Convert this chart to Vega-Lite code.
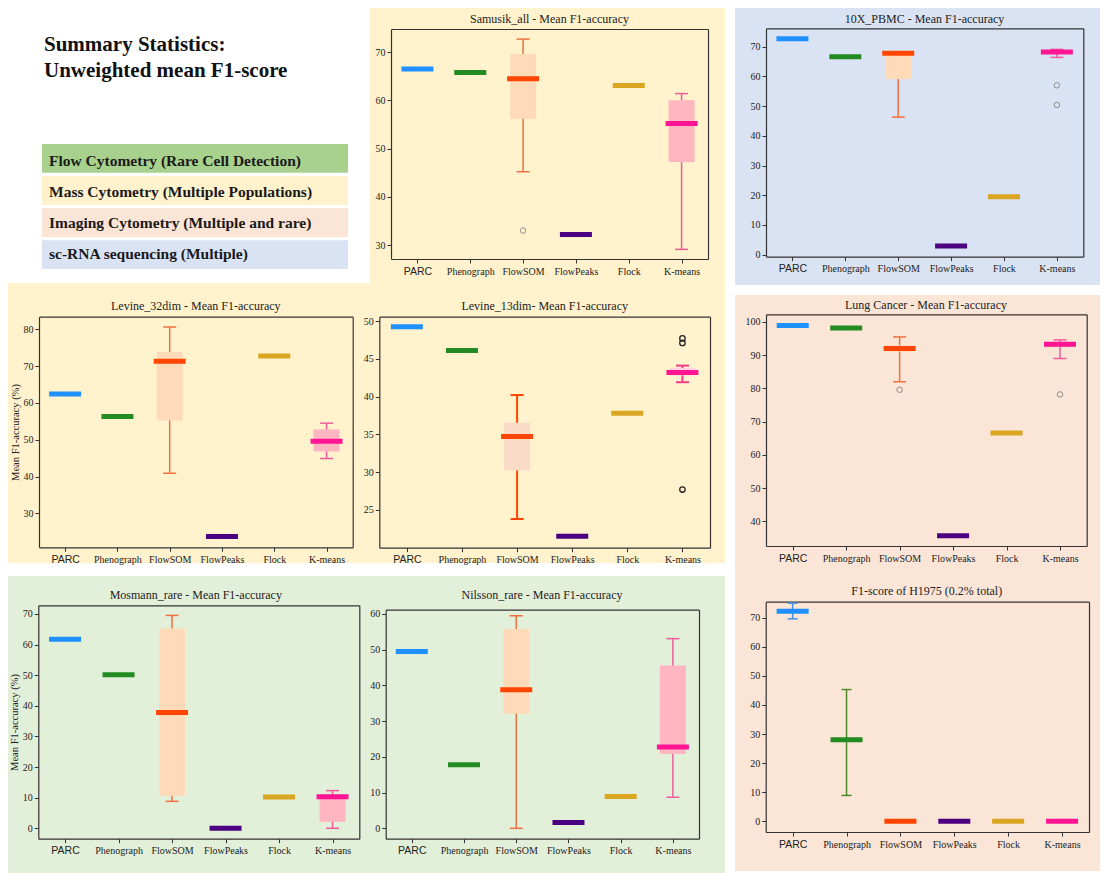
{
"$schema": "https://vega.github.io/schema/vega-lite/v6.json",
"padding": {"left": 8, "top": 8, "right": 0, "bottom": 0},
"background": "white",
"config": {
  "view": {"stroke": null},
  "tick": {"opacity": 1},
  "point": {"opacity": 1},
  "axis": {"grid": false, "labelFont": "Liberation Serif", "labelFontSize": 10, "labelColor": "#222222", "domainColor": "#333333", "domainWidth": 1.2, "tickColor": "#333333", "tickSize": 4, "tickWidth": 1, "labelPadding": 2, "titleFont": "Liberation Serif", "titleFontWeight": "normal", "titleFontSize": 10.5, "titleColor": "#222222"},
  "title": {"font": "Liberation Serif", "fontSize": 12, "fontWeight": "normal", "color": "#222222", "frame": "group", "baseline": "middle"}
},
"datasets": {
  "heading": [
    {"line": "Summary Statistics:"},
    {"line": "Unweighted mean F1-score"}
  ],
  "groups": [
    {"group": "Flow Cytometry (Rare Cell Detection)"},
    {"group": "Mass Cytometry (Multiple Populations)"},
    {"group": "Imaging Cytometry (Multiple and rare)"},
    {"group": "sc-RNA sequencing (Multiple)"}
  ],
  "stats": [
    {"panel": "Samusik_all", "method": "PARC", "med": 66.5, "q1": 66.5, "q3": 66.5, "lo": 66.5, "hi": 66.5},
    {"panel": "Samusik_all", "method": "Phenograph", "med": 65.8, "q1": 65.8, "q3": 65.8, "lo": 65.8, "hi": 65.8},
    {"panel": "Samusik_all", "method": "FlowSOM", "med": 64.5, "q1": 56.2, "q3": 69.6, "lo": 45.2, "hi": 72.7},
    {"panel": "Samusik_all", "method": "FlowPeaks", "med": 32.2, "q1": 32.2, "q3": 32.2, "lo": 32.2, "hi": 32.2},
    {"panel": "Samusik_all", "method": "Flock", "med": 63.1, "q1": 63.1, "q3": 63.1, "lo": 63.1, "hi": 63.1},
    {"panel": "Samusik_all", "method": "K-means", "med": 55.2, "q1": 47.2, "q3": 60.0, "lo": 29.1, "hi": 61.4},
    {"panel": "10X_PBMC", "method": "PARC", "med": 72.7, "q1": 72.7, "q3": 72.7, "lo": 72.7, "hi": 72.7},
    {"panel": "10X_PBMC", "method": "Phenograph", "med": 66.6, "q1": 66.6, "q3": 66.6, "lo": 66.6, "hi": 66.6},
    {"panel": "10X_PBMC", "method": "FlowSOM", "med": 67.8, "q1": 59.1, "q3": 68.2, "lo": 46.3, "hi": 68.2},
    {"panel": "10X_PBMC", "method": "FlowPeaks", "med": 2.9, "q1": 2.9, "q3": 2.9, "lo": 2.9, "hi": 2.9},
    {"panel": "10X_PBMC", "method": "Flock", "med": 19.5, "q1": 19.5, "q3": 19.5, "lo": 19.5, "hi": 19.5},
    {"panel": "10X_PBMC", "method": "K-means", "med": 68.2, "q1": 67.6, "q3": 68.8, "lo": 66.4, "hi": 69.1},
    {"panel": "Levine_32dim", "method": "PARC", "med": 62.4, "q1": 62.4, "q3": 62.4, "lo": 62.4, "hi": 62.4},
    {"panel": "Levine_32dim", "method": "Phenograph", "med": 56.3, "q1": 56.3, "q3": 56.3, "lo": 56.3, "hi": 56.3},
    {"panel": "Levine_32dim", "method": "FlowSOM", "med": 71.3, "q1": 55.2, "q3": 73.8, "lo": 40.9, "hi": 80.6},
    {"panel": "Levine_32dim", "method": "FlowPeaks", "med": 23.7, "q1": 23.7, "q3": 23.7, "lo": 23.7, "hi": 23.7},
    {"panel": "Levine_32dim", "method": "Flock", "med": 72.7, "q1": 72.7, "q3": 72.7, "lo": 72.7, "hi": 72.7},
    {"panel": "Levine_32dim", "method": "K-means", "med": 49.6, "q1": 46.8, "q3": 52.8, "lo": 44.9, "hi": 54.5},
    {"panel": "Levine_13dim", "method": "PARC", "med": 49.25, "q1": 49.25, "q3": 49.25, "lo": 49.25, "hi": 49.25},
    {"panel": "Levine_13dim", "method": "Phenograph", "med": 46.1, "q1": 46.1, "q3": 46.1, "lo": 46.1, "hi": 46.1},
    {"panel": "Levine_13dim", "method": "FlowSOM", "med": 34.7, "q1": 30.2, "q3": 36.55, "lo": 23.8, "hi": 40.2},
    {"panel": "Levine_13dim", "method": "FlowPeaks", "med": 21.5, "q1": 21.5, "q3": 21.5, "lo": 21.5, "hi": 21.5},
    {"panel": "Levine_13dim", "method": "Flock", "med": 37.8, "q1": 37.8, "q3": 37.8, "lo": 37.8, "hi": 37.8},
    {"panel": "Levine_13dim", "method": "K-means", "med": 43.2, "q1": 42.8, "q3": 43.8, "lo": 41.9, "hi": 44.1},
    {"panel": "Lung Cancer", "method": "PARC", "med": 98.9, "q1": 98.9, "q3": 98.9, "lo": 98.9, "hi": 98.9},
    {"panel": "Lung Cancer", "method": "Phenograph", "med": 98.2, "q1": 98.2, "q3": 98.2, "lo": 98.2, "hi": 98.2},
    {"panel": "Lung Cancer", "method": "FlowSOM", "med": 92.0, "q1": 91.1, "q3": 92.9, "lo": 82.0, "hi": 95.5},
    {"panel": "Lung Cancer", "method": "FlowPeaks", "med": 35.7, "q1": 35.7, "q3": 35.7, "lo": 35.7, "hi": 35.7},
    {"panel": "Lung Cancer", "method": "Flock", "med": 66.6, "q1": 66.6, "q3": 66.6, "lo": 66.6, "hi": 66.6},
    {"panel": "Lung Cancer", "method": "K-means", "med": 93.3, "q1": 92.4, "q3": 93.9, "lo": 89.0, "hi": 94.6},
    {"panel": "Mosmann_rare", "method": "PARC", "med": 61.7, "q1": 61.7, "q3": 61.7, "lo": 61.7, "hi": 61.7},
    {"panel": "Mosmann_rare", "method": "Phenograph", "med": 50.1, "q1": 50.1, "q3": 50.1, "lo": 50.1, "hi": 50.1},
    {"panel": "Mosmann_rare", "method": "FlowSOM", "med": 37.8, "q1": 10.6, "q3": 65.2, "lo": 8.8, "hi": 69.5},
    {"panel": "Mosmann_rare", "method": "FlowPeaks", "med": 0.0, "q1": 0.0, "q3": 0.0, "lo": 0.0, "hi": 0.0},
    {"panel": "Mosmann_rare", "method": "Flock", "med": 10.2, "q1": 10.2, "q3": 10.2, "lo": 10.2, "hi": 10.2},
    {"panel": "Mosmann_rare", "method": "K-means", "med": 10.3, "q1": 2.1, "q3": 11.0, "lo": 0.0, "hi": 12.3},
    {"panel": "Nilsson_rare", "method": "PARC", "med": 49.5, "q1": 49.5, "q3": 49.5, "lo": 49.5, "hi": 49.5},
    {"panel": "Nilsson_rare", "method": "Phenograph", "med": 17.8, "q1": 17.8, "q3": 17.8, "lo": 17.8, "hi": 17.8},
    {"panel": "Nilsson_rare", "method": "FlowSOM", "med": 38.8, "q1": 32.1, "q3": 55.8, "lo": 0.0, "hi": 59.5},
    {"panel": "Nilsson_rare", "method": "FlowPeaks", "med": 1.6, "q1": 1.6, "q3": 1.6, "lo": 1.6, "hi": 1.6},
    {"panel": "Nilsson_rare", "method": "Flock", "med": 8.9, "q1": 8.9, "q3": 8.9, "lo": 8.9, "hi": 8.9},
    {"panel": "Nilsson_rare", "method": "K-means", "med": 22.8, "q1": 20.8, "q3": 45.6, "lo": 8.7, "hi": 53.1},
    {"panel": "H1975", "method": "PARC", "med": 72.2, "q1": 72.2, "q3": 72.2, "lo": 69.6, "hi": 75.0},
    {"panel": "H1975", "method": "Phenograph", "med": 28.0, "q1": 28.0, "q3": 28.0, "lo": 8.9, "hi": 45.3},
    {"panel": "H1975", "method": "FlowSOM", "med": 0.0, "q1": 0.0, "q3": 0.0, "lo": 0.0, "hi": 0.0},
    {"panel": "H1975", "method": "FlowPeaks", "med": 0.0, "q1": 0.0, "q3": 0.0, "lo": 0.0, "hi": 0.0},
    {"panel": "H1975", "method": "Flock", "med": 0.0, "q1": 0.0, "q3": 0.0, "lo": 0.0, "hi": 0.0},
    {"panel": "H1975", "method": "K-means", "med": 0.0, "q1": 0.0, "q3": 0.0, "lo": 0.0, "hi": 0.0}
  ],
  "outliers": [
    {"panel": "Samusik_all", "method": "FlowSOM", "value": 33.0},
    {"panel": "10X_PBMC", "method": "K-means", "value": 57.0},
    {"panel": "10X_PBMC", "method": "K-means", "value": 50.4},
    {"panel": "Levine_13dim", "method": "K-means", "value": 47.7},
    {"panel": "Levine_13dim", "method": "K-means", "value": 47.1},
    {"panel": "Levine_13dim", "method": "K-means", "value": 27.7},
    {"panel": "Lung Cancer", "method": "FlowSOM", "value": 79.6},
    {"panel": "Lung Cancer", "method": "K-means", "value": 78.2}
  ]
},
"spacing": 10,
"hconcat": [
 {"spacing": 10, "vconcat": [
  {"spacing": 0, "vconcat": [
   {"spacing": 0, "hconcat": [
    {
     "width": 362, "height": 275,
     "view": {"fill": "white", "stroke": null},
     "resolve": {"scale": {"y": "independent"}},
     "layer": [
      {"data": {"name": "heading"},
       "mark": {"type": "text", "align": "left", "baseline": "alphabetic", "dx": 2, "font": "Liberation Serif", "fontWeight": "bold", "fontSize": 21, "color": "#111111"},
       "encoding": {
        "y": {"field": "line", "type": "nominal", "scale": {"type": "point", "domain": ["Summary Statistics:", "Unweighted mean F1-score"], "range": [43, 69], "padding": 0}, "axis": null},
        "x": {"datum": 0, "type": "quantitative", "scale": {"domain": [0, 1], "range": [34, 340], "nice": false}, "axis": null},
        "text": {"field": "line"}
       }},
      {"data": {"name": "groups"},
       "mark": {"type": "bar"},
       "encoding": {
        "y": {"field": "group", "type": "nominal", "scale": {"domain": ["Flow Cytometry (Rare Cell Detection)", "Mass Cytometry (Multiple Populations)", "Imaging Cytometry (Multiple and rare)", "sc-RNA sequencing (Multiple)"], "range": [136, 261], "paddingInner": 0.1, "paddingOuter": 0}, "axis": null},
        "x": {"datum": 0, "type": "quantitative", "scale": {"domain": [0, 1], "range": [34, 340], "nice": false}, "axis": null},
        "x2": {"datum": 1},
        "fill": {"field": "group", "type": "nominal", "scale": {"domain": ["Flow Cytometry (Rare Cell Detection)", "Mass Cytometry (Multiple Populations)", "Imaging Cytometry (Multiple and rare)", "sc-RNA sequencing (Multiple)"], "range": ["#A9D18E", "#FFF2CC", "#FBE5D6", "#DAE3F3"]}, "legend": null}
       }},
      {"data": {"name": "groups"},
       "mark": {"type": "text", "align": "left", "dx": 7, "dy": 1, "font": "Liberation Serif", "fontWeight": "bold", "fontSize": 15.5, "color": "#1a1a1a"},
       "encoding": {
        "y": {"field": "group", "type": "nominal", "scale": {"domain": ["Flow Cytometry (Rare Cell Detection)", "Mass Cytometry (Multiple Populations)", "Imaging Cytometry (Multiple and rare)", "sc-RNA sequencing (Multiple)"], "range": [136, 261], "paddingInner": 0.1, "paddingOuter": 0}, "axis": null},
        "x": {"datum": 0, "type": "quantitative", "scale": {"domain": [0, 1], "range": [34, 340], "nice": false}, "axis": null},
        "text": {"field": "group"}
       }}
     ]
    },
    {
     "width": 355, "height": 275,
     "view": {"fill": "#FFF2CC", "stroke": null},
     "title": {"text": "Samusik_all - Mean F1-accuracy", "offset": -17.5, "dx": 2},
     "resolve": {"axis": {"x": "independent", "y": "independent"}},
     "layer": [
      {"data": {"name": "stats"}, "transform": [{"filter": "datum.panel === 'Samusik_all' && datum.hi > datum.lo"}],
       "mark": {"type": "rule", "strokeWidth": 1.5},
       "encoding": {
        "x": {"field": "method", "type": "nominal", "scale": {"type": "point", "padding": 0.5, "domain": ["PARC","Phenograph","FlowSOM","FlowPeaks","Flock","K-means"], "range": [21, 338]}, "axis": null},
        "y": {"field": "lo", "type": "quantitative", "scale": {"domain": [27.1, 74.8], "range": [251, 21], "nice": false, "zero": false}, "axis": null},
        "y2": {"field": "hi"},
        "color": {"condition": [{"test": "datum.method === 'FlowSOM'", "value": "#F0703F"}, {"test": "datum.method === 'K-means'", "value": "#EE5C9B"}, {"test": "datum.method === 'PARC'", "value": "#4A8FE0"}], "value": "#4F8A2A"}
       }},
      {"data": {"name": "stats"}, "transform": [{"filter": "datum.panel === 'Samusik_all' && datum.hi > datum.lo"}],
       "mark": {"type": "tick", "size": 13, "thickness": 1.5},
       "encoding": {
        "x": {"field": "method", "type": "nominal", "scale": {"type": "point", "padding": 0.5, "domain": ["PARC","Phenograph","FlowSOM","FlowPeaks","Flock","K-means"], "range": [21, 338]}, "axis": null},
        "y": {"field": "lo", "type": "quantitative", "scale": {"domain": [27.1, 74.8], "range": [251, 21], "nice": false, "zero": false}, "axis": null},
        "color": {"condition": [{"test": "datum.method === 'FlowSOM'", "value": "#F0703F"}, {"test": "datum.method === 'K-means'", "value": "#EE5C9B"}, {"test": "datum.method === 'PARC'", "value": "#4A8FE0"}], "value": "#4F8A2A"}
       }},
      {"data": {"name": "stats"}, "transform": [{"filter": "datum.panel === 'Samusik_all' && datum.hi > datum.lo"}],
       "mark": {"type": "tick", "size": 13, "thickness": 1.5},
       "encoding": {
        "x": {"field": "method", "type": "nominal", "scale": {"type": "point", "padding": 0.5, "domain": ["PARC","Phenograph","FlowSOM","FlowPeaks","Flock","K-means"], "range": [21, 338]}, "axis": null},
        "y": {"field": "hi", "type": "quantitative", "scale": {"domain": [27.1, 74.8], "range": [251, 21], "nice": false, "zero": false}, "axis": null},
        "color": {"condition": [{"test": "datum.method === 'FlowSOM'", "value": "#F0703F"}, {"test": "datum.method === 'K-means'", "value": "#EE5C9B"}, {"test": "datum.method === 'PARC'", "value": "#4A8FE0"}], "value": "#4F8A2A"}
       }},
      {"data": {"name": "stats"}, "transform": [{"filter": "datum.panel === 'Samusik_all' && datum.q3 > datum.q1"}],
       "mark": {"type": "bar", "width": 26},
       "encoding": {
        "x": {"field": "method", "type": "nominal", "scale": {"type": "point", "padding": 0.5, "domain": ["PARC","Phenograph","FlowSOM","FlowPeaks","Flock","K-means"], "range": [21, 338]}, "axis": null},
        "y": {"field": "q1", "type": "quantitative", "scale": {"domain": [27.1, 74.8], "range": [251, 21], "nice": false, "zero": false}, "axis": null},
        "y2": {"field": "q3"},
        "color": {"condition": {"test": "datum.method === 'FlowSOM'", "value": "#FFDAB9"}, "value": "#FFB6C1"}
       }},
      {"data": {"name": "stats"}, "transform": [{"filter": "datum.panel === 'Samusik_all'"}],
       "mark": {"type": "tick", "size": 32, "thickness": 5},
       "encoding": {
        "x": {"field": "method", "type": "nominal", "scale": {"type": "point", "padding": 0.5, "domain": ["PARC","Phenograph","FlowSOM","FlowPeaks","Flock","K-means"], "range": [21, 338]},
              "axis": {"orient": "bottom", "offset": -24, "title": null, "labelAngle": 0, "labelPadding": 3, "labelFont": {"condition": {"test": "datum.value === 'PARC'", "value": "Liberation Sans"}, "value": "Liberation Serif"}, "labelFontSize": {"condition": {"test": "datum.value === 'PARC'", "value": 10.5}, "value": 10}}},
        "y": {"field": "med", "type": "quantitative", "scale": {"domain": [27.1, 74.8], "range": [251, 21], "nice": false, "zero": false},
              "axis": {"orient": "left", "offset": -21, "title": null, "values": [30, 40, 50, 60, 70]}},
        "color": {"field": "method", "type": "nominal", "scale": {"domain": ["PARC","Phenograph","FlowSOM","FlowPeaks","Flock","K-means"], "range": ["#1E90FF","#228B22","#FF4500","#4B0082","#DAA520","#FF1493"]}, "legend": null}
       }},
      {"data": {"name": "outliers"}, "transform": [{"filter": "datum.panel === 'Samusik_all'"}],
       "mark": {"type": "point", "filled": false, "size": 30, "strokeWidth": 1},
       "encoding": {
        "x": {"field": "method", "type": "nominal", "scale": {"type": "point", "padding": 0.5, "domain": ["PARC","Phenograph","FlowSOM","FlowPeaks","Flock","K-means"], "range": [21, 338]}, "axis": null},
        "y": {"field": "value", "type": "quantitative", "scale": {"domain": [27.1, 74.8], "range": [251, 21], "nice": false, "zero": false}, "axis": null},
        "color": {"condition": {"test": "datum.panel === 'Levine_13dim'", "value": "#222222"}, "value": "#8C8C8C"}
       }},
      {"data": {"name": "stats"}, "transform": [{"filter": "datum.panel === 'Samusik_all'"}],
       "mark": {"type": "point", "opacity": 0},
       "encoding": {
        "x": {"field": "method", "type": "nominal", "scale": {"type": "point", "padding": 0.5, "domain": ["PARC","Phenograph","FlowSOM","FlowPeaks","Flock","K-means"], "range": [21, 338]},
              "axis": {"orient": "top", "offset": -21, "title": null, "labels": false, "ticks": false}},
        "y": {"field": "med", "type": "quantitative", "scale": {"domain": [27.1, 74.8], "range": [251, 21], "nice": false, "zero": false},
              "axis": {"orient": "right", "offset": -17, "title": null, "labels": false, "ticks": false}}
       }}
     ]
    }
   ]},
   {"spacing": 0, "hconcat": [
    {
     "width": 347, "height": 280,
     "view": {"fill": "#FFF2CC", "stroke": null},
     "title": {"text": "Levine_32dim - Mean F1-accuracy", "offset": -30.2, "dx": 14.3},
     "resolve": {"axis": {"x": "independent", "y": "independent"}},
     "layer": [
      {"data": {"name": "stats"}, "transform": [{"filter": "datum.panel === 'Levine_32dim' && datum.hi > datum.lo"}],
       "mark": {"type": "rule", "strokeWidth": 1.5},
       "encoding": {
        "x": {"field": "method", "type": "nominal", "scale": {"type": "point", "padding": 0.5, "domain": ["PARC","Phenograph","FlowSOM","FlowPeaks","Flock","K-means"], "range": [31, 344.7]}, "axis": null},
        "y": {"field": "lo", "type": "quantitative", "scale": {"domain": [20.8, 83.4], "range": [264.3, 33.7], "nice": false, "zero": false}, "axis": null},
        "y2": {"field": "hi"},
        "color": {"condition": [{"test": "datum.method === 'FlowSOM'", "value": "#F0703F"}, {"test": "datum.method === 'K-means'", "value": "#EE5C9B"}, {"test": "datum.method === 'PARC'", "value": "#4A8FE0"}], "value": "#4F8A2A"}
       }},
      {"data": {"name": "stats"}, "transform": [{"filter": "datum.panel === 'Levine_32dim' && datum.hi > datum.lo"}],
       "mark": {"type": "tick", "size": 13, "thickness": 1.5},
       "encoding": {
        "x": {"field": "method", "type": "nominal", "scale": {"type": "point", "padding": 0.5, "domain": ["PARC","Phenograph","FlowSOM","FlowPeaks","Flock","K-means"], "range": [31, 344.7]}, "axis": null},
        "y": {"field": "lo", "type": "quantitative", "scale": {"domain": [20.8, 83.4], "range": [264.3, 33.7], "nice": false, "zero": false}, "axis": null},
        "color": {"condition": [{"test": "datum.method === 'FlowSOM'", "value": "#F0703F"}, {"test": "datum.method === 'K-means'", "value": "#EE5C9B"}, {"test": "datum.method === 'PARC'", "value": "#4A8FE0"}], "value": "#4F8A2A"}
       }},
      {"data": {"name": "stats"}, "transform": [{"filter": "datum.panel === 'Levine_32dim' && datum.hi > datum.lo"}],
       "mark": {"type": "tick", "size": 13, "thickness": 1.5},
       "encoding": {
        "x": {"field": "method", "type": "nominal", "scale": {"type": "point", "padding": 0.5, "domain": ["PARC","Phenograph","FlowSOM","FlowPeaks","Flock","K-means"], "range": [31, 344.7]}, "axis": null},
        "y": {"field": "hi", "type": "quantitative", "scale": {"domain": [20.8, 83.4], "range": [264.3, 33.7], "nice": false, "zero": false}, "axis": null},
        "color": {"condition": [{"test": "datum.method === 'FlowSOM'", "value": "#F0703F"}, {"test": "datum.method === 'K-means'", "value": "#EE5C9B"}, {"test": "datum.method === 'PARC'", "value": "#4A8FE0"}], "value": "#4F8A2A"}
       }},
      {"data": {"name": "stats"}, "transform": [{"filter": "datum.panel === 'Levine_32dim' && datum.q3 > datum.q1"}],
       "mark": {"type": "bar", "width": 26},
       "encoding": {
        "x": {"field": "method", "type": "nominal", "scale": {"type": "point", "padding": 0.5, "domain": ["PARC","Phenograph","FlowSOM","FlowPeaks","Flock","K-means"], "range": [31, 344.7]}, "axis": null},
        "y": {"field": "q1", "type": "quantitative", "scale": {"domain": [20.8, 83.4], "range": [264.3, 33.7], "nice": false, "zero": false}, "axis": null},
        "y2": {"field": "q3"},
        "color": {"condition": {"test": "datum.method === 'FlowSOM'", "value": "#FFDAB9"}, "value": "#FFB6C1"}
       }},
      {"data": {"name": "stats"}, "transform": [{"filter": "datum.panel === 'Levine_32dim'"}],
       "mark": {"type": "tick", "size": 32, "thickness": 5},
       "encoding": {
        "x": {"field": "method", "type": "nominal", "scale": {"type": "point", "padding": 0.5, "domain": ["PARC","Phenograph","FlowSOM","FlowPeaks","Flock","K-means"], "range": [31, 344.7]},
              "axis": {"orient": "bottom", "offset": -15.7, "title": null, "labelAngle": 0, "labelPadding": 3, "labelFont": {"condition": {"test": "datum.value === 'PARC'", "value": "Liberation Sans"}, "value": "Liberation Serif"}, "labelFontSize": {"condition": {"test": "datum.value === 'PARC'", "value": 10.5}, "value": 10}}},
        "y": {"field": "med", "type": "quantitative", "scale": {"domain": [20.8, 83.4], "range": [264.3, 33.7], "nice": false, "zero": false},
              "axis": {"orient": "left", "offset": -31, "title": "Mean F1-accuracy (%)", "titlePadding": 3, "values": [30, 40, 50, 60, 70, 80]}},
        "color": {"field": "method", "type": "nominal", "scale": {"domain": ["PARC","Phenograph","FlowSOM","FlowPeaks","Flock","K-means"], "range": ["#1E90FF","#228B22","#FF4500","#4B0082","#DAA520","#FF1493"]}, "legend": null}
       }},
      {"data": {"name": "stats"}, "transform": [{"filter": "datum.panel === 'Levine_32dim'"}],
       "mark": {"type": "point", "opacity": 0},
       "encoding": {
        "x": {"field": "method", "type": "nominal", "scale": {"type": "point", "padding": 0.5, "domain": ["PARC","Phenograph","FlowSOM","FlowPeaks","Flock","K-means"], "range": [31, 344.7]},
              "axis": {"orient": "top", "offset": -33.7, "title": null, "labels": false, "ticks": false}},
        "y": {"field": "med", "type": "quantitative", "scale": {"domain": [20.8, 83.4], "range": [264.3, 33.7], "nice": false, "zero": false},
              "axis": {"orient": "right", "offset": -2.3, "title": null, "labels": false, "ticks": false}}
       }}
     ]
    },
    {
     "width": 370, "height": 280,
     "view": {"fill": "#FFF2CC", "stroke": null},
     "title": {"text": "Levine_13dim- Mean F1-accuracy", "offset": -30.2, "dx": 4.7},
     "resolve": {"axis": {"x": "independent", "y": "independent"}},
     "layer": [
      {"data": {"name": "stats"}, "transform": [{"filter": "datum.panel === 'Levine_13dim' && datum.hi > datum.lo"}],
       "mark": {"type": "rule", "strokeWidth": 2},
       "encoding": {
        "x": {"field": "method", "type": "nominal", "scale": {"type": "point", "padding": 0.5, "domain": ["PARC","Phenograph","FlowSOM","FlowPeaks","Flock","K-means"], "range": [24.3, 355]}, "axis": null},
        "y": {"field": "lo", "type": "quantitative", "scale": {"domain": [20.0, 50.57], "range": [264.7, 33.7], "nice": false, "zero": false}, "axis": null},
        "y2": {"field": "hi"},
        "color": {"condition": [{"test": "datum.method === 'FlowSOM'", "value": "#FF4500"}, {"test": "datum.method === 'K-means'", "value": "#EE3C8B"}, {"test": "datum.method === 'PARC'", "value": "#4A8FE0"}], "value": "#4F8A2A"}
       }},
      {"data": {"name": "stats"}, "transform": [{"filter": "datum.panel === 'Levine_13dim' && datum.hi > datum.lo"}],
       "mark": {"type": "tick", "size": 13, "thickness": 2},
       "encoding": {
        "x": {"field": "method", "type": "nominal", "scale": {"type": "point", "padding": 0.5, "domain": ["PARC","Phenograph","FlowSOM","FlowPeaks","Flock","K-means"], "range": [24.3, 355]}, "axis": null},
        "y": {"field": "lo", "type": "quantitative", "scale": {"domain": [20.0, 50.57], "range": [264.7, 33.7], "nice": false, "zero": false}, "axis": null},
        "color": {"condition": [{"test": "datum.method === 'FlowSOM'", "value": "#FF4500"}, {"test": "datum.method === 'K-means'", "value": "#EE3C8B"}, {"test": "datum.method === 'PARC'", "value": "#4A8FE0"}], "value": "#4F8A2A"}
       }},
      {"data": {"name": "stats"}, "transform": [{"filter": "datum.panel === 'Levine_13dim' && datum.hi > datum.lo"}],
       "mark": {"type": "tick", "size": 13, "thickness": 2},
       "encoding": {
        "x": {"field": "method", "type": "nominal", "scale": {"type": "point", "padding": 0.5, "domain": ["PARC","Phenograph","FlowSOM","FlowPeaks","Flock","K-means"], "range": [24.3, 355]}, "axis": null},
        "y": {"field": "hi", "type": "quantitative", "scale": {"domain": [20.0, 50.57], "range": [264.7, 33.7], "nice": false, "zero": false}, "axis": null},
        "color": {"condition": [{"test": "datum.method === 'FlowSOM'", "value": "#FF4500"}, {"test": "datum.method === 'K-means'", "value": "#EE3C8B"}, {"test": "datum.method === 'PARC'", "value": "#4A8FE0"}], "value": "#4F8A2A"}
       }},
      {"data": {"name": "stats"}, "transform": [{"filter": "datum.panel === 'Levine_13dim' && datum.q3 > datum.q1"}],
       "mark": {"type": "bar", "width": 26},
       "encoding": {
        "x": {"field": "method", "type": "nominal", "scale": {"type": "point", "padding": 0.5, "domain": ["PARC","Phenograph","FlowSOM","FlowPeaks","Flock","K-means"], "range": [24.3, 355]}, "axis": null},
        "y": {"field": "q1", "type": "quantitative", "scale": {"domain": [20.0, 50.57], "range": [264.7, 33.7], "nice": false, "zero": false}, "axis": null},
        "y2": {"field": "q3"},
        "color": {"condition": {"test": "datum.method === 'FlowSOM'", "value": "#FADBC8"}, "value": "#FFD0DD"}
       }},
      {"data": {"name": "stats"}, "transform": [{"filter": "datum.panel === 'Levine_13dim'"}],
       "mark": {"type": "tick", "size": 32, "thickness": 5},
       "encoding": {
        "x": {"field": "method", "type": "nominal", "scale": {"type": "point", "padding": 0.5, "domain": ["PARC","Phenograph","FlowSOM","FlowPeaks","Flock","K-means"], "range": [24.3, 355]},
              "axis": {"orient": "bottom", "offset": -15.3, "title": null, "labelAngle": 0, "labelPadding": 3, "labelFont": {"condition": {"test": "datum.value === 'PARC'", "value": "Liberation Sans"}, "value": "Liberation Serif"}, "labelFontSize": {"condition": {"test": "datum.value === 'PARC'", "value": 10.5}, "value": 10}}},
        "y": {"field": "med", "type": "quantitative", "scale": {"domain": [20.0, 50.57], "range": [264.7, 33.7], "nice": false, "zero": false},
              "axis": {"orient": "left", "offset": -24.3, "title": null, "values": [25, 30, 35, 40, 45, 50]}},
        "color": {"field": "method", "type": "nominal", "scale": {"domain": ["PARC","Phenograph","FlowSOM","FlowPeaks","Flock","K-means"], "range": ["#1E90FF","#228B22","#FF4500","#4B0082","#DAA520","#FF1493"]}, "legend": null}
       }},
      {"data": {"name": "outliers"}, "transform": [{"filter": "datum.panel === 'Levine_13dim'"}],
       "mark": {"type": "point", "filled": false, "size": 30, "strokeWidth": 1.3},
       "encoding": {
        "x": {"field": "method", "type": "nominal", "scale": {"type": "point", "padding": 0.5, "domain": ["PARC","Phenograph","FlowSOM","FlowPeaks","Flock","K-means"], "range": [24.3, 355]}, "axis": null},
        "y": {"field": "value", "type": "quantitative", "scale": {"domain": [20.0, 50.57], "range": [264.7, 33.7], "nice": false, "zero": false}, "axis": null},
        "color": {"condition": {"test": "datum.panel === 'Levine_13dim'", "value": "#222222"}, "value": "#8C8C8C"}
       }},
      {"data": {"name": "stats"}, "transform": [{"filter": "datum.panel === 'Levine_13dim'"}],
       "mark": {"type": "point", "opacity": 0},
       "encoding": {
        "x": {"field": "method", "type": "nominal", "scale": {"type": "point", "padding": 0.5, "domain": ["PARC","Phenograph","FlowSOM","FlowPeaks","Flock","K-means"], "range": [24.3, 355]},
              "axis": {"orient": "top", "offset": -33.7, "title": null, "labels": false, "ticks": false}},
        "y": {"field": "med", "type": "quantitative", "scale": {"domain": [20.0, 50.57], "range": [264.7, 33.7], "nice": false, "zero": false},
              "axis": {"orient": "right", "offset": -15, "title": null, "labels": false, "ticks": false}}
       }}
     ]
    }
   ]}
  ]},
  {"spacing": 0, "hconcat": [
    {
     "width": 357, "height": 298,
     "view": {"fill": "#E2EFD9", "stroke": null},
     "title": {"text": "Mosmann_rare - Mean F1-accuracy", "offset": -25.5, "dx": 9.3},
     "resolve": {"axis": {"x": "independent", "y": "independent"}},
     "layer": [
      {"data": {"name": "stats"}, "transform": [{"filter": "datum.panel === 'Mosmann_rare' && datum.hi > datum.lo"}],
       "mark": {"type": "rule", "strokeWidth": 1.5},
       "encoding": {
        "x": {"field": "method", "type": "nominal", "scale": {"type": "point", "padding": 0.5, "domain": ["PARC","Phenograph","FlowSOM","FlowPeaks","Flock","K-means"], "range": [30.3, 351.3]}, "axis": null},
        "y": {"field": "lo", "type": "quantitative", "scale": {"domain": [-3.4, 72.8], "range": [262.7, 29.3], "nice": false, "zero": false}, "axis": null},
        "y2": {"field": "hi"},
        "color": {"condition": [{"test": "datum.method === 'FlowSOM'", "value": "#F0703F"}, {"test": "datum.method === 'K-means'", "value": "#EE5C9B"}, {"test": "datum.method === 'PARC'", "value": "#4A8FE0"}], "value": "#4F8A2A"}
       }},
      {"data": {"name": "stats"}, "transform": [{"filter": "datum.panel === 'Mosmann_rare' && datum.hi > datum.lo"}],
       "mark": {"type": "tick", "size": 13, "thickness": 1.5},
       "encoding": {
        "x": {"field": "method", "type": "nominal", "scale": {"type": "point", "padding": 0.5, "domain": ["PARC","Phenograph","FlowSOM","FlowPeaks","Flock","K-means"], "range": [30.3, 351.3]}, "axis": null},
        "y": {"field": "lo", "type": "quantitative", "scale": {"domain": [-3.4, 72.8], "range": [262.7, 29.3], "nice": false, "zero": false}, "axis": null},
        "color": {"condition": [{"test": "datum.method === 'FlowSOM'", "value": "#F0703F"}, {"test": "datum.method === 'K-means'", "value": "#EE5C9B"}, {"test": "datum.method === 'PARC'", "value": "#4A8FE0"}], "value": "#4F8A2A"}
       }},
      {"data": {"name": "stats"}, "transform": [{"filter": "datum.panel === 'Mosmann_rare' && datum.hi > datum.lo"}],
       "mark": {"type": "tick", "size": 13, "thickness": 1.5},
       "encoding": {
        "x": {"field": "method", "type": "nominal", "scale": {"type": "point", "padding": 0.5, "domain": ["PARC","Phenograph","FlowSOM","FlowPeaks","Flock","K-means"], "range": [30.3, 351.3]}, "axis": null},
        "y": {"field": "hi", "type": "quantitative", "scale": {"domain": [-3.4, 72.8], "range": [262.7, 29.3], "nice": false, "zero": false}, "axis": null},
        "color": {"condition": [{"test": "datum.method === 'FlowSOM'", "value": "#F0703F"}, {"test": "datum.method === 'K-means'", "value": "#EE5C9B"}, {"test": "datum.method === 'PARC'", "value": "#4A8FE0"}], "value": "#4F8A2A"}
       }},
      {"data": {"name": "stats"}, "transform": [{"filter": "datum.panel === 'Mosmann_rare' && datum.q3 > datum.q1"}],
       "mark": {"type": "bar", "width": 26},
       "encoding": {
        "x": {"field": "method", "type": "nominal", "scale": {"type": "point", "padding": 0.5, "domain": ["PARC","Phenograph","FlowSOM","FlowPeaks","Flock","K-means"], "range": [30.3, 351.3]}, "axis": null},
        "y": {"field": "q1", "type": "quantitative", "scale": {"domain": [-3.4, 72.8], "range": [262.7, 29.3], "nice": false, "zero": false}, "axis": null},
        "y2": {"field": "q3"},
        "color": {"condition": {"test": "datum.method === 'FlowSOM'", "value": "#FFDAB9"}, "value": "#FFB6C1"}
       }},
      {"data": {"name": "stats"}, "transform": [{"filter": "datum.panel === 'Mosmann_rare'"}],
       "mark": {"type": "tick", "size": 32, "thickness": 5},
       "encoding": {
        "x": {"field": "method", "type": "nominal", "scale": {"type": "point", "padding": 0.5, "domain": ["PARC","Phenograph","FlowSOM","FlowPeaks","Flock","K-means"], "range": [30.3, 351.3]},
              "axis": {"orient": "bottom", "offset": -35.3, "title": null, "labelAngle": 0, "labelPadding": 3, "labelFont": {"condition": {"test": "datum.value === 'PARC'", "value": "Liberation Sans"}, "value": "Liberation Serif"}, "labelFontSize": {"condition": {"test": "datum.value === 'PARC'", "value": 10.5}, "value": 10}}},
        "y": {"field": "med", "type": "quantitative", "scale": {"domain": [-3.4, 72.8], "range": [262.7, 29.3], "nice": false, "zero": false},
              "axis": {"orient": "left", "offset": -30.3, "title": "Mean F1-accuracy (%)", "titlePadding": 3, "values": [0, 10, 20, 30, 40, 50, 60, 70]}},
        "color": {"field": "method", "type": "nominal", "scale": {"domain": ["PARC","Phenograph","FlowSOM","FlowPeaks","Flock","K-means"], "range": ["#1E90FF","#228B22","#FF4500","#4B0082","#DAA520","#FF1493"]}, "legend": null}
       }},
      {"data": {"name": "stats"}, "transform": [{"filter": "datum.panel === 'Mosmann_rare'"}],
       "mark": {"type": "point", "opacity": 0},
       "encoding": {
        "x": {"field": "method", "type": "nominal", "scale": {"type": "point", "padding": 0.5, "domain": ["PARC","Phenograph","FlowSOM","FlowPeaks","Flock","K-means"], "range": [30.3, 351.3]},
              "axis": {"orient": "top", "offset": -29.3, "title": null, "labels": false, "ticks": false}},
        "y": {"field": "med", "type": "quantitative", "scale": {"domain": [-3.4, 72.8], "range": [262.7, 29.3], "nice": false, "zero": false},
              "axis": {"orient": "right", "offset": -5.7, "title": null, "labels": false, "ticks": false}}
       }}
     ]
    },
    {
     "width": 360, "height": 298,
     "view": {"fill": "#E2EFD9", "stroke": null},
     "title": {"text": "Nilsson_rare - Mean F1-accuracy", "offset": -25.5, "dx": -3},
     "resolve": {"axis": {"x": "independent", "y": "independent"}},
     "layer": [
      {"data": {"name": "stats"}, "transform": [{"filter": "datum.panel === 'Nilsson_rare' && datum.hi > datum.lo"}],
       "mark": {"type": "rule", "strokeWidth": 1.5},
       "encoding": {
        "x": {"field": "method", "type": "nominal", "scale": {"type": "point", "padding": 0.5, "domain": ["PARC","Phenograph","FlowSOM","FlowPeaks","Flock","K-means"], "range": [20.7, 334]}, "axis": null},
        "y": {"field": "lo", "type": "quantitative", "scale": {"domain": [-2.9, 61.2], "range": [262.7, 33.7], "nice": false, "zero": false}, "axis": null},
        "y2": {"field": "hi"},
        "color": {"condition": [{"test": "datum.method === 'FlowSOM'", "value": "#F0703F"}, {"test": "datum.method === 'K-means'", "value": "#EE5C9B"}, {"test": "datum.method === 'PARC'", "value": "#4A8FE0"}], "value": "#4F8A2A"}
       }},
      {"data": {"name": "stats"}, "transform": [{"filter": "datum.panel === 'Nilsson_rare' && datum.hi > datum.lo"}],
       "mark": {"type": "tick", "size": 13, "thickness": 1.5},
       "encoding": {
        "x": {"field": "method", "type": "nominal", "scale": {"type": "point", "padding": 0.5, "domain": ["PARC","Phenograph","FlowSOM","FlowPeaks","Flock","K-means"], "range": [20.7, 334]}, "axis": null},
        "y": {"field": "lo", "type": "quantitative", "scale": {"domain": [-2.9, 61.2], "range": [262.7, 33.7], "nice": false, "zero": false}, "axis": null},
        "color": {"condition": [{"test": "datum.method === 'FlowSOM'", "value": "#F0703F"}, {"test": "datum.method === 'K-means'", "value": "#EE5C9B"}, {"test": "datum.method === 'PARC'", "value": "#4A8FE0"}], "value": "#4F8A2A"}
       }},
      {"data": {"name": "stats"}, "transform": [{"filter": "datum.panel === 'Nilsson_rare' && datum.hi > datum.lo"}],
       "mark": {"type": "tick", "size": 13, "thickness": 1.5},
       "encoding": {
        "x": {"field": "method", "type": "nominal", "scale": {"type": "point", "padding": 0.5, "domain": ["PARC","Phenograph","FlowSOM","FlowPeaks","Flock","K-means"], "range": [20.7, 334]}, "axis": null},
        "y": {"field": "hi", "type": "quantitative", "scale": {"domain": [-2.9, 61.2], "range": [262.7, 33.7], "nice": false, "zero": false}, "axis": null},
        "color": {"condition": [{"test": "datum.method === 'FlowSOM'", "value": "#F0703F"}, {"test": "datum.method === 'K-means'", "value": "#EE5C9B"}, {"test": "datum.method === 'PARC'", "value": "#4A8FE0"}], "value": "#4F8A2A"}
       }},
      {"data": {"name": "stats"}, "transform": [{"filter": "datum.panel === 'Nilsson_rare' && datum.q3 > datum.q1"}],
       "mark": {"type": "bar", "width": 26},
       "encoding": {
        "x": {"field": "method", "type": "nominal", "scale": {"type": "point", "padding": 0.5, "domain": ["PARC","Phenograph","FlowSOM","FlowPeaks","Flock","K-means"], "range": [20.7, 334]}, "axis": null},
        "y": {"field": "q1", "type": "quantitative", "scale": {"domain": [-2.9, 61.2], "range": [262.7, 33.7], "nice": false, "zero": false}, "axis": null},
        "y2": {"field": "q3"},
        "color": {"condition": {"test": "datum.method === 'FlowSOM'", "value": "#FFDAB9"}, "value": "#FFB6C1"}
       }},
      {"data": {"name": "stats"}, "transform": [{"filter": "datum.panel === 'Nilsson_rare'"}],
       "mark": {"type": "tick", "size": 32, "thickness": 5},
       "encoding": {
        "x": {"field": "method", "type": "nominal", "scale": {"type": "point", "padding": 0.5, "domain": ["PARC","Phenograph","FlowSOM","FlowPeaks","Flock","K-means"], "range": [20.7, 334]},
              "axis": {"orient": "bottom", "offset": -35.3, "title": null, "labelAngle": 0, "labelPadding": 3, "labelFont": {"condition": {"test": "datum.value === 'PARC'", "value": "Liberation Sans"}, "value": "Liberation Serif"}, "labelFontSize": {"condition": {"test": "datum.value === 'PARC'", "value": 10.5}, "value": 10}}},
        "y": {"field": "med", "type": "quantitative", "scale": {"domain": [-2.9, 61.2], "range": [262.7, 33.7], "nice": false, "zero": false},
              "axis": {"orient": "left", "offset": -20.7, "title": null, "values": [0, 10, 20, 30, 40, 50, 60]}},
        "color": {"field": "method", "type": "nominal", "scale": {"domain": ["PARC","Phenograph","FlowSOM","FlowPeaks","Flock","K-means"], "range": ["#1E90FF","#228B22","#FF4500","#4B0082","#DAA520","#FF1493"]}, "legend": null}
       }},
      {"data": {"name": "stats"}, "transform": [{"filter": "datum.panel === 'Nilsson_rare'"}],
       "mark": {"type": "point", "opacity": 0},
       "encoding": {
        "x": {"field": "method", "type": "nominal", "scale": {"type": "point", "padding": 0.5, "domain": ["PARC","Phenograph","FlowSOM","FlowPeaks","Flock","K-means"], "range": [20.7, 334]},
              "axis": {"orient": "top", "offset": -33.7, "title": null, "labels": false, "ticks": false}},
        "y": {"field": "med", "type": "quantitative", "scale": {"domain": [-2.9, 61.2], "range": [262.7, 33.7], "nice": false, "zero": false},
              "axis": {"orient": "right", "offset": -26, "title": null, "labels": false, "ticks": false}}
       }}
     ]
    }
  ]}
 ]},
 {"spacing": 10, "vconcat": [
    {
     "width": 365, "height": 277,
     "view": {"fill": "#DAE3F3", "stroke": null},
     "title": {"text": "10X_PBMC - Mean F1-accuracy", "offset": -17.5, "dx": 7},
     "resolve": {"axis": {"x": "independent", "y": "independent"}},
     "layer": [
      {"data": {"name": "stats"}, "transform": [{"filter": "datum.panel === '10X_PBMC' && datum.hi > datum.lo"}],
       "mark": {"type": "rule", "strokeWidth": 1.5},
       "encoding": {
        "x": {"field": "method", "type": "nominal", "scale": {"type": "point", "padding": 0.5, "domain": ["PARC","Phenograph","FlowSOM","FlowPeaks","Flock","K-means"], "range": [31, 348.3]}, "axis": null},
        "y": {"field": "lo", "type": "quantitative", "scale": {"domain": [-0.7, 76.2], "range": [248.7, 20.3], "nice": false, "zero": false}, "axis": null},
        "y2": {"field": "hi"},
        "color": {"condition": [{"test": "datum.method === 'FlowSOM'", "value": "#F0703F"}, {"test": "datum.method === 'K-means'", "value": "#EE5C9B"}, {"test": "datum.method === 'PARC'", "value": "#4A8FE0"}], "value": "#4F8A2A"}
       }},
      {"data": {"name": "stats"}, "transform": [{"filter": "datum.panel === '10X_PBMC' && datum.hi > datum.lo"}],
       "mark": {"type": "tick", "size": 13, "thickness": 1.5},
       "encoding": {
        "x": {"field": "method", "type": "nominal", "scale": {"type": "point", "padding": 0.5, "domain": ["PARC","Phenograph","FlowSOM","FlowPeaks","Flock","K-means"], "range": [31, 348.3]}, "axis": null},
        "y": {"field": "lo", "type": "quantitative", "scale": {"domain": [-0.7, 76.2], "range": [248.7, 20.3], "nice": false, "zero": false}, "axis": null},
        "color": {"condition": [{"test": "datum.method === 'FlowSOM'", "value": "#F0703F"}, {"test": "datum.method === 'K-means'", "value": "#EE5C9B"}, {"test": "datum.method === 'PARC'", "value": "#4A8FE0"}], "value": "#4F8A2A"}
       }},
      {"data": {"name": "stats"}, "transform": [{"filter": "datum.panel === '10X_PBMC' && datum.hi > datum.lo"}],
       "mark": {"type": "tick", "size": 13, "thickness": 1.5},
       "encoding": {
        "x": {"field": "method", "type": "nominal", "scale": {"type": "point", "padding": 0.5, "domain": ["PARC","Phenograph","FlowSOM","FlowPeaks","Flock","K-means"], "range": [31, 348.3]}, "axis": null},
        "y": {"field": "hi", "type": "quantitative", "scale": {"domain": [-0.7, 76.2], "range": [248.7, 20.3], "nice": false, "zero": false}, "axis": null},
        "color": {"condition": [{"test": "datum.method === 'FlowSOM'", "value": "#F0703F"}, {"test": "datum.method === 'K-means'", "value": "#EE5C9B"}, {"test": "datum.method === 'PARC'", "value": "#4A8FE0"}], "value": "#4F8A2A"}
       }},
      {"data": {"name": "stats"}, "transform": [{"filter": "datum.panel === '10X_PBMC' && datum.q3 > datum.q1"}],
       "mark": {"type": "bar", "width": 26},
       "encoding": {
        "x": {"field": "method", "type": "nominal", "scale": {"type": "point", "padding": 0.5, "domain": ["PARC","Phenograph","FlowSOM","FlowPeaks","Flock","K-means"], "range": [31, 348.3]}, "axis": null},
        "y": {"field": "q1", "type": "quantitative", "scale": {"domain": [-0.7, 76.2], "range": [248.7, 20.3], "nice": false, "zero": false}, "axis": null},
        "y2": {"field": "q3"},
        "color": {"condition": {"test": "datum.method === 'FlowSOM'", "value": "#FFDAB9"}, "value": "#FFB6C1"}
       }},
      {"data": {"name": "stats"}, "transform": [{"filter": "datum.panel === '10X_PBMC'"}],
       "mark": {"type": "tick", "size": 32, "thickness": 5},
       "encoding": {
        "x": {"field": "method", "type": "nominal", "scale": {"type": "point", "padding": 0.5, "domain": ["PARC","Phenograph","FlowSOM","FlowPeaks","Flock","K-means"], "range": [31, 348.3]},
              "axis": {"orient": "bottom", "offset": -28.3, "title": null, "labelAngle": 0, "labelPadding": 3, "labelFont": {"condition": {"test": "datum.value === 'PARC'", "value": "Liberation Sans"}, "value": "Liberation Serif"}, "labelFontSize": {"condition": {"test": "datum.value === 'PARC'", "value": 10.5}, "value": 10}}},
        "y": {"field": "med", "type": "quantitative", "scale": {"domain": [-0.7, 76.2], "range": [248.7, 20.3], "nice": false, "zero": false},
              "axis": {"orient": "left", "offset": -31, "title": null, "values": [0, 10, 20, 30, 40, 50, 60, 70]}},
        "color": {"field": "method", "type": "nominal", "scale": {"domain": ["PARC","Phenograph","FlowSOM","FlowPeaks","Flock","K-means"], "range": ["#1E90FF","#228B22","#FF4500","#4B0082","#DAA520","#FF1493"]}, "legend": null}
       }},
      {"data": {"name": "outliers"}, "transform": [{"filter": "datum.panel === '10X_PBMC'"}],
       "mark": {"type": "point", "filled": false, "size": 30, "strokeWidth": 1},
       "encoding": {
        "x": {"field": "method", "type": "nominal", "scale": {"type": "point", "padding": 0.5, "domain": ["PARC","Phenograph","FlowSOM","FlowPeaks","Flock","K-means"], "range": [31, 348.3]}, "axis": null},
        "y": {"field": "value", "type": "quantitative", "scale": {"domain": [-0.7, 76.2], "range": [248.7, 20.3], "nice": false, "zero": false}, "axis": null},
        "color": {"condition": {"test": "datum.panel === 'Levine_13dim'", "value": "#222222"}, "value": "#8C8C8C"}
       }},
      {"data": {"name": "stats"}, "transform": [{"filter": "datum.panel === '10X_PBMC'"}],
       "mark": {"type": "point", "opacity": 0},
       "encoding": {
        "x": {"field": "method", "type": "nominal", "scale": {"type": "point", "padding": 0.5, "domain": ["PARC","Phenograph","FlowSOM","FlowPeaks","Flock","K-means"], "range": [31, 348.3]},
              "axis": {"orient": "top", "offset": -20.3, "title": null, "labels": false, "ticks": false}},
        "y": {"field": "med", "type": "quantitative", "scale": {"domain": [-0.7, 76.2], "range": [248.7, 20.3], "nice": false, "zero": false},
              "axis": {"orient": "right", "offset": -16.7, "title": null, "labels": false, "ticks": false}}
       }}
     ]
    },
    {"spacing": 0, "vconcat": [
    {
     "width": 365, "height": 280,
     "view": {"fill": "#FBE5D6", "stroke": null},
     "title": {"text": "Lung Cancer - Mean F1-accuracy", "offset": -16.5, "dx": 8.5},
     "resolve": {"axis": {"x": "independent", "y": "independent"}},
     "layer": [
      {"data": {"name": "stats"}, "transform": [{"filter": "datum.panel === 'Lung Cancer' && datum.hi > datum.lo"}],
       "mark": {"type": "rule", "strokeWidth": 1.5},
       "encoding": {
        "x": {"field": "method", "type": "nominal", "scale": {"type": "point", "padding": 0.5, "domain": ["PARC","Phenograph","FlowSOM","FlowPeaks","Flock","K-means"], "range": [31, 351.7]}, "axis": null},
        "y": {"field": "lo", "type": "quantitative", "scale": {"domain": [32.6, 102.3], "range": [251, 19.3], "nice": false, "zero": false}, "axis": null},
        "y2": {"field": "hi"},
        "color": {"condition": [{"test": "datum.method === 'FlowSOM'", "value": "#F0703F"}, {"test": "datum.method === 'K-means'", "value": "#EE5C9B"}, {"test": "datum.method === 'PARC'", "value": "#4A8FE0"}], "value": "#4F8A2A"}
       }},
      {"data": {"name": "stats"}, "transform": [{"filter": "datum.panel === 'Lung Cancer' && datum.hi > datum.lo"}],
       "mark": {"type": "tick", "size": 13, "thickness": 1.5},
       "encoding": {
        "x": {"field": "method", "type": "nominal", "scale": {"type": "point", "padding": 0.5, "domain": ["PARC","Phenograph","FlowSOM","FlowPeaks","Flock","K-means"], "range": [31, 351.7]}, "axis": null},
        "y": {"field": "lo", "type": "quantitative", "scale": {"domain": [32.6, 102.3], "range": [251, 19.3], "nice": false, "zero": false}, "axis": null},
        "color": {"condition": [{"test": "datum.method === 'FlowSOM'", "value": "#F0703F"}, {"test": "datum.method === 'K-means'", "value": "#EE5C9B"}, {"test": "datum.method === 'PARC'", "value": "#4A8FE0"}], "value": "#4F8A2A"}
       }},
      {"data": {"name": "stats"}, "transform": [{"filter": "datum.panel === 'Lung Cancer' && datum.hi > datum.lo"}],
       "mark": {"type": "tick", "size": 13, "thickness": 1.5},
       "encoding": {
        "x": {"field": "method", "type": "nominal", "scale": {"type": "point", "padding": 0.5, "domain": ["PARC","Phenograph","FlowSOM","FlowPeaks","Flock","K-means"], "range": [31, 351.7]}, "axis": null},
        "y": {"field": "hi", "type": "quantitative", "scale": {"domain": [32.6, 102.3], "range": [251, 19.3], "nice": false, "zero": false}, "axis": null},
        "color": {"condition": [{"test": "datum.method === 'FlowSOM'", "value": "#F0703F"}, {"test": "datum.method === 'K-means'", "value": "#EE5C9B"}, {"test": "datum.method === 'PARC'", "value": "#4A8FE0"}], "value": "#4F8A2A"}
       }},
      {"data": {"name": "stats"}, "transform": [{"filter": "datum.panel === 'Lung Cancer' && datum.q3 > datum.q1"}],
       "mark": {"type": "bar", "width": 26},
       "encoding": {
        "x": {"field": "method", "type": "nominal", "scale": {"type": "point", "padding": 0.5, "domain": ["PARC","Phenograph","FlowSOM","FlowPeaks","Flock","K-means"], "range": [31, 351.7]}, "axis": null},
        "y": {"field": "q1", "type": "quantitative", "scale": {"domain": [32.6, 102.3], "range": [251, 19.3], "nice": false, "zero": false}, "axis": null},
        "y2": {"field": "q3"},
        "color": {"condition": {"test": "datum.method === 'FlowSOM'", "value": "#FFDAB9"}, "value": "#FFB6C1"}
       }},
      {"data": {"name": "stats"}, "transform": [{"filter": "datum.panel === 'Lung Cancer'"}],
       "mark": {"type": "tick", "size": 32, "thickness": 5},
       "encoding": {
        "x": {"field": "method", "type": "nominal", "scale": {"type": "point", "padding": 0.5, "domain": ["PARC","Phenograph","FlowSOM","FlowPeaks","Flock","K-means"], "range": [31, 351.7]},
              "axis": {"orient": "bottom", "offset": -29, "title": null, "labelAngle": 0, "labelPadding": 3, "labelFont": {"condition": {"test": "datum.value === 'PARC'", "value": "Liberation Sans"}, "value": "Liberation Serif"}, "labelFontSize": {"condition": {"test": "datum.value === 'PARC'", "value": 10.5}, "value": 10}}},
        "y": {"field": "med", "type": "quantitative", "scale": {"domain": [32.6, 102.3], "range": [251, 19.3], "nice": false, "zero": false},
              "axis": {"orient": "left", "offset": -31, "title": null, "values": [40, 50, 60, 70, 80, 90, 100]}},
        "color": {"field": "method", "type": "nominal", "scale": {"domain": ["PARC","Phenograph","FlowSOM","FlowPeaks","Flock","K-means"], "range": ["#1E90FF","#228B22","#FF4500","#4B0082","#DAA520","#FF1493"]}, "legend": null}
       }},
      {"data": {"name": "outliers"}, "transform": [{"filter": "datum.panel === 'Lung Cancer'"}],
       "mark": {"type": "point", "filled": false, "size": 30, "strokeWidth": 1},
       "encoding": {
        "x": {"field": "method", "type": "nominal", "scale": {"type": "point", "padding": 0.5, "domain": ["PARC","Phenograph","FlowSOM","FlowPeaks","Flock","K-means"], "range": [31, 351.7]}, "axis": null},
        "y": {"field": "value", "type": "quantitative", "scale": {"domain": [32.6, 102.3], "range": [251, 19.3], "nice": false, "zero": false}, "axis": null},
        "color": {"condition": {"test": "datum.panel === 'Levine_13dim'", "value": "#222222"}, "value": "#8C8C8C"}
       }},
      {"data": {"name": "stats"}, "transform": [{"filter": "datum.panel === 'Lung Cancer'"}],
       "mark": {"type": "point", "opacity": 0},
       "encoding": {
        "x": {"field": "method", "type": "nominal", "scale": {"type": "point", "padding": 0.5, "domain": ["PARC","Phenograph","FlowSOM","FlowPeaks","Flock","K-means"], "range": [31, 351.7]},
              "axis": {"orient": "top", "offset": -19.3, "title": null, "labels": false, "ticks": false}},
        "y": {"field": "med", "type": "quantitative", "scale": {"domain": [32.6, 102.3], "range": [251, 19.3], "nice": false, "zero": false},
              "axis": {"orient": "right", "offset": -13.3, "title": null, "labels": false, "ticks": false}}
       }}
     ]
    },
    {
     "width": 365, "height": 296,
     "view": {"fill": "#FBE5D6", "stroke": null},
     "title": {"text": "F1-score of H1975 (0.2% total)", "offset": -23.2, "dx": 9.2},
     "resolve": {"axis": {"x": "independent", "y": "independent"}},
     "layer": [
      {"data": {"name": "stats"}, "transform": [{"filter": "datum.panel === 'H1975' && datum.hi > datum.lo"}],
       "mark": {"type": "rule", "strokeWidth": 1.5},
       "encoding": {
        "x": {"field": "method", "type": "nominal", "scale": {"type": "point", "padding": 0.5, "domain": ["PARC","Phenograph","FlowSOM","FlowPeaks","Flock","K-means"], "range": [30.7, 354]}, "axis": null},
        "y": {"field": "lo", "type": "quantitative", "scale": {"domain": [-3.67, 75.5], "range": [257, 26.7], "nice": false, "zero": false}, "axis": null},
        "y2": {"field": "hi"},
        "color": {"condition": [{"test": "datum.method === 'FlowSOM'", "value": "#F0703F"}, {"test": "datum.method === 'K-means'", "value": "#EE5C9B"}, {"test": "datum.method === 'PARC'", "value": "#4A8FE0"}], "value": "#4F8A2A"}
       }},
      {"data": {"name": "stats"}, "transform": [{"filter": "datum.panel === 'H1975' && datum.hi > datum.lo"}],
       "mark": {"type": "tick", "size": 10, "thickness": 1.5},
       "encoding": {
        "x": {"field": "method", "type": "nominal", "scale": {"type": "point", "padding": 0.5, "domain": ["PARC","Phenograph","FlowSOM","FlowPeaks","Flock","K-means"], "range": [30.7, 354]}, "axis": null},
        "y": {"field": "lo", "type": "quantitative", "scale": {"domain": [-3.67, 75.5], "range": [257, 26.7], "nice": false, "zero": false}, "axis": null},
        "color": {"condition": [{"test": "datum.method === 'FlowSOM'", "value": "#F0703F"}, {"test": "datum.method === 'K-means'", "value": "#EE5C9B"}, {"test": "datum.method === 'PARC'", "value": "#4A8FE0"}], "value": "#4F8A2A"}
       }},
      {"data": {"name": "stats"}, "transform": [{"filter": "datum.panel === 'H1975' && datum.hi > datum.lo"}],
       "mark": {"type": "tick", "size": 10, "thickness": 1.5},
       "encoding": {
        "x": {"field": "method", "type": "nominal", "scale": {"type": "point", "padding": 0.5, "domain": ["PARC","Phenograph","FlowSOM","FlowPeaks","Flock","K-means"], "range": [30.7, 354]}, "axis": null},
        "y": {"field": "hi", "type": "quantitative", "scale": {"domain": [-3.67, 75.5], "range": [257, 26.7], "nice": false, "zero": false}, "axis": null},
        "color": {"condition": [{"test": "datum.method === 'FlowSOM'", "value": "#F0703F"}, {"test": "datum.method === 'K-means'", "value": "#EE5C9B"}, {"test": "datum.method === 'PARC'", "value": "#4A8FE0"}], "value": "#4F8A2A"}
       }},
      {"data": {"name": "stats"}, "transform": [{"filter": "datum.panel === 'H1975'"}],
       "mark": {"type": "tick", "size": 32, "thickness": 5},
       "encoding": {
        "x": {"field": "method", "type": "nominal", "scale": {"type": "point", "padding": 0.5, "domain": ["PARC","Phenograph","FlowSOM","FlowPeaks","Flock","K-means"], "range": [30.7, 354]},
              "axis": {"orient": "bottom", "offset": -39, "title": null, "labelAngle": 0, "labelPadding": 3, "labelFont": {"condition": {"test": "datum.value === 'PARC'", "value": "Liberation Sans"}, "value": "Liberation Serif"}, "labelFontSize": {"condition": {"test": "datum.value === 'PARC'", "value": 10.5}, "value": 10}}},
        "y": {"field": "med", "type": "quantitative", "scale": {"domain": [-3.67, 75.5], "range": [257, 26.7], "nice": false, "zero": false},
              "axis": {"orient": "left", "offset": -30.7, "title": null, "values": [0, 10, 20, 30, 40, 50, 60, 70]}},
        "color": {"field": "method", "type": "nominal", "scale": {"domain": ["PARC","Phenograph","FlowSOM","FlowPeaks","Flock","K-means"], "range": ["#1E90FF","#228B22","#FF4500","#4B0082","#DAA520","#FF1493"]}, "legend": null}
       }},
      {"data": {"name": "stats"}, "transform": [{"filter": "datum.panel === 'H1975'"}],
       "mark": {"type": "point", "opacity": 0},
       "encoding": {
        "x": {"field": "method", "type": "nominal", "scale": {"type": "point", "padding": 0.5, "domain": ["PARC","Phenograph","FlowSOM","FlowPeaks","Flock","K-means"], "range": [30.7, 354]},
              "axis": {"orient": "top", "offset": -26.7, "title": null, "labels": false, "ticks": false}},
        "y": {"field": "med", "type": "quantitative", "scale": {"domain": [-3.67, 75.5], "range": [257, 26.7], "nice": false, "zero": false},
              "axis": {"orient": "right", "offset": -11, "title": null, "labels": false, "ticks": false}}
       }}
     ]
    }
    ]}
 ]}
]
}
